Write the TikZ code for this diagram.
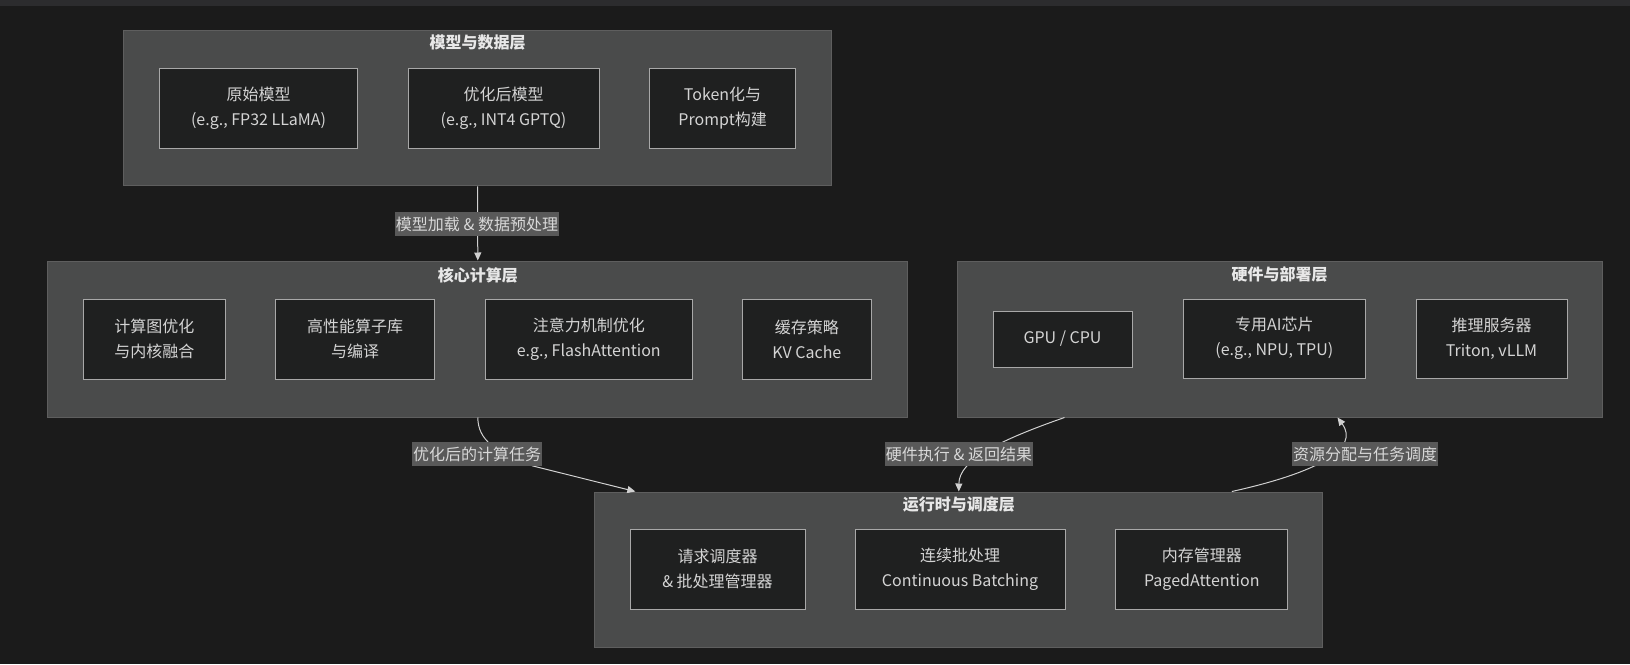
\documentclass[tikz,border=0pt]{standalone}
\usepackage{fontspec}
\setmainfont{Noto Sans CJK SC}
\usepackage{tikz}
\usepackage{xcolor}
\usetikzlibrary{arrows.meta,positioning}
\definecolor{bgcol}{HTML}{1B1B1B}
\definecolor{stripcol}{HTML}{2C2C2E}
\definecolor{layerfill}{HTML}{4A4B4B}
\definecolor{layerdraw}{HTML}{5E5E5E}
\definecolor{unitfill}{HTML}{1F2020}
\definecolor{unitdraw}{HTML}{A8A8A8}
\definecolor{unittext}{HTML}{D4D4D4}
\definecolor{titletext}{HTML}{E8E8E8}
\definecolor{lblfill}{HTML}{595959}
\definecolor{lbltext}{HTML}{D8D8D8}
\definecolor{flowcol}{HTML}{D0D0D0}

\begin{document}
\begin{tikzpicture}
  [x=1pt,y=-1pt,
   layer/.style={rectangle,fill=layerfill,draw=layerdraw,line width=1pt,inner sep=0pt},
   ltitle/.style={text=titletext,font=\fontsize{16pt}{20pt}\selectfont\bfseries},
   unit/.style={rectangle,fill=unitfill,draw=unitdraw,line width=1pt,text=unittext,
     align=center,inner sep=0pt,minimum height=80pt,font=\fontsize{16pt}{25pt}\selectfont},
   lbl/.style={rectangle,fill=lblfill,text=lbltext,inner xsep=1pt,inner ysep=0pt,
     minimum height=24pt,font=\fontsize{16pt}{20pt}\selectfont},
   flow/.style={draw=flowcol,line width=1pt,-{Triangle[length=8pt,width=7pt]}}]
  \fill[bgcol] (0,0) rectangle (1630,664);
  \fill[stripcol] (0,0) rectangle (1630,6);
  \useasboundingbox (0,0) rectangle (1630,664);

  % layers
  \node[layer,minimum width=708pt,minimum height=155pt] (model) at (477.5,108.4) {};
  \node[layer,minimum width=860pt,minimum height=156pt] (core) at (477.8,339) {};
  \node[layer,minimum width=645pt,minimum height=156pt] (hw) at (1279.5,339) {};
  \node[layer,minimum width=728pt,minimum height=155pt] (runtime) at (958.8,569.5) {};

  \node[ltitle] (tmodel) at (477.5,43) {模型与数据层};
  \node[ltitle] (tcore) at (477.8,275) {核心计算层};
  \node[ltitle] (thw) at (1279.5,274) {硬件与部署层};
  \node[ltitle] (truntime) at (958.8,504) {运行时与调度层};

  % model & data
  \node[unit,minimum width=198pt] (raw) at (258.6,108.5) {原始模型\\(e.g., FP32 LLaMA)};
  \node[unit,minimum width=191pt] (quant) at (503.5,108.5) {优化后模型\\(e.g., INT4 GPTQ)};
  \node[unit,minimum width=146pt] (token) at (722.6,108.5) {Token化与\\Prompt构建};

  % core compute
  \node[unit,minimum width=142pt] (graph) at (154.4,339) {计算图优化\\与内核融合};
  \node[unit,minimum width=159pt] (kernel) at (355.2,339) {高性能算子库\\与编译};
  \node[unit,minimum width=207pt] (attn) at (588.8,339) {注意力机制优化\\e.g., FlashAttention};
  \node[unit,minimum width=129pt] (kvcache) at (806.9,339) {缓存策略\\KV Cache};

  % hardware
  \node[unit,minimum width=139pt,minimum height=56pt] (gpu) at (1062.5,339) {GPU / CPU};
  \node[unit,minimum width=182pt,minimum height=79pt] (aichip) at (1274.3,338.5) {专用AI芯片\\(e.g., NPU, TPU)};
  \node[unit,minimum width=151pt,minimum height=79pt] (server) at (1491.5,338.5) {推理服务器\\Triton, vLLM};

  % runtime
  \node[unit,minimum width=175pt] (sched) at (717.5,569) {请求调度器\\\& 批处理管理器};
  \node[unit,minimum width=210pt] (batch) at (960,569) {连续批处理\\Continuous Batching};
  \node[unit,minimum width=172pt] (memmgr) at (1201.8,569) {内存管理器\\PagedAttention};

  % flows
  \draw[flow] (model.south) -- (core.north);
  \draw[flow] (core.south) .. controls (478,440) and (495,452) .. (533,466)
    -- ([xshift=41pt]runtime.north west);
  \draw[flow] ([xshift=-215pt]hw.south) .. controls (1000,440) and (959,460) .. (runtime.north);
  \draw[flow] ([xshift=273pt]runtime.north) .. controls (1320,472) and (1360,448)
    .. ([xshift=58pt]hw.south);

  \node[lbl] (lload) at (477,224) {模型加载 \& 数据预处理};
  \node[lbl] (ltask) at (477,454) {优化后的计算任务};
  \node[lbl] (lexec) at (959,454) {硬件执行 \& 返回结果};
  \node[lbl] (lalloc) at (1365,454) {资源分配与任务调度};

\end{tikzpicture}
\end{document}
